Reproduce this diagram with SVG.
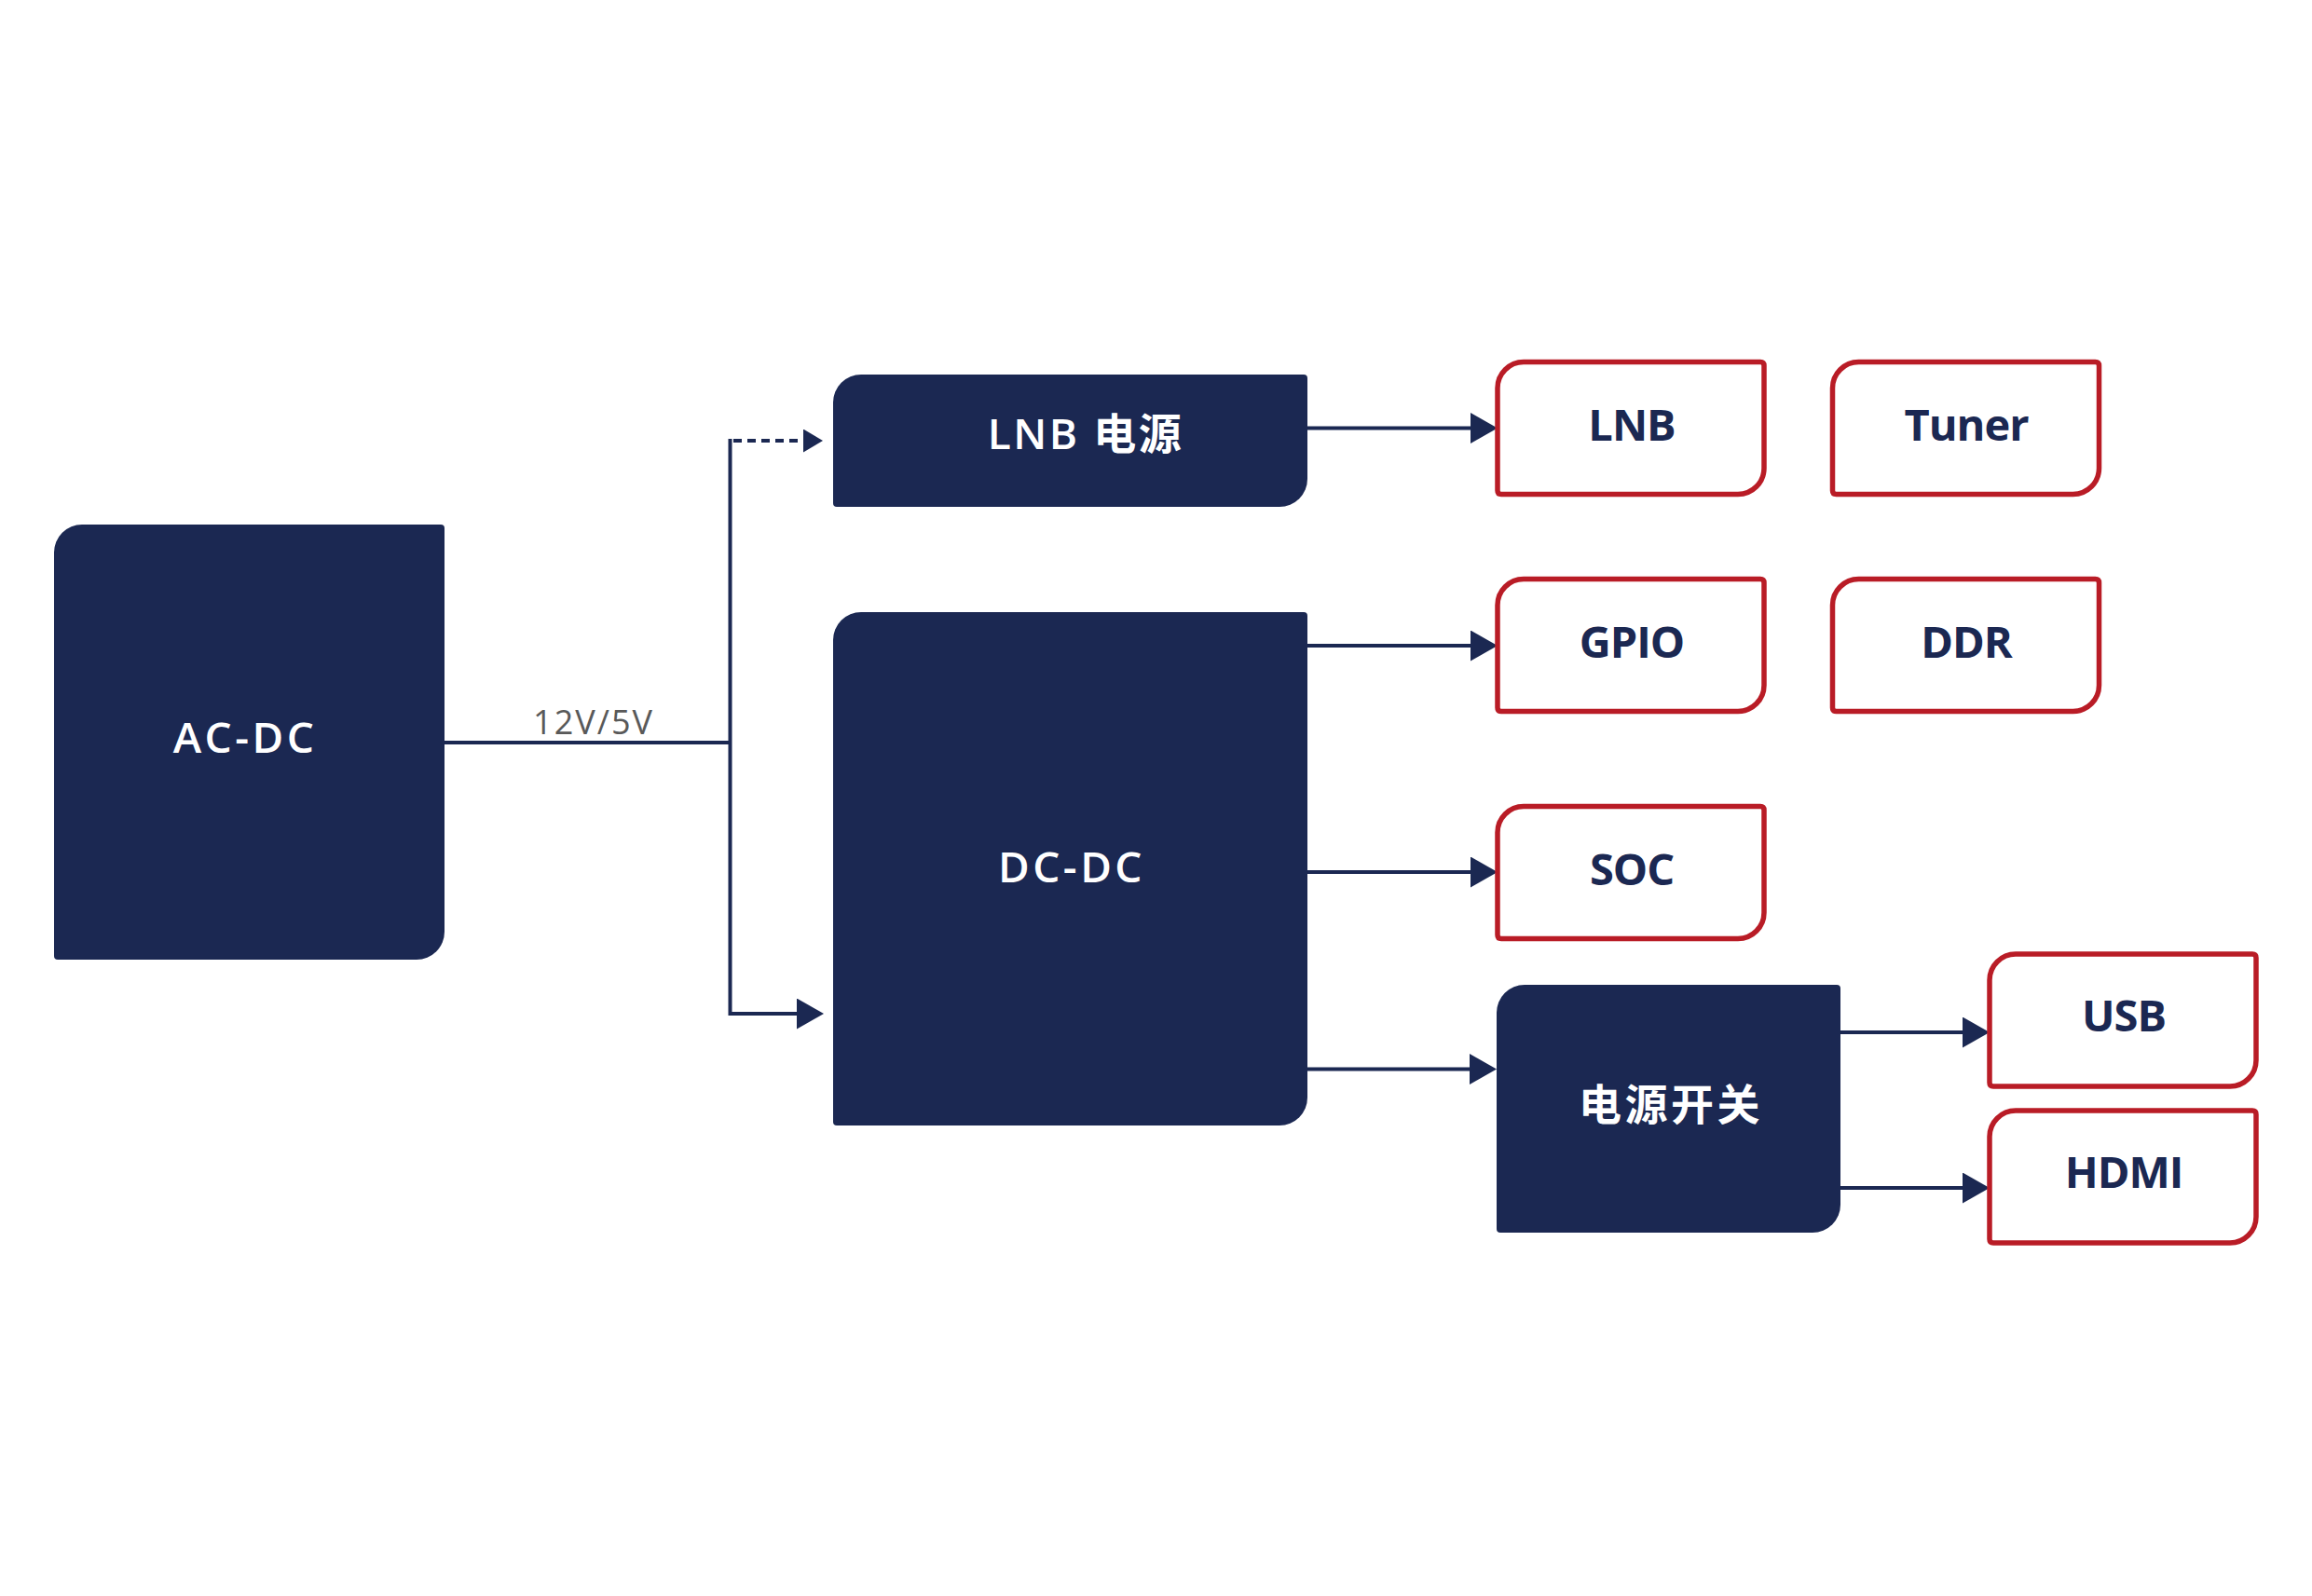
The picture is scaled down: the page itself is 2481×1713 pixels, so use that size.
<svg xmlns="http://www.w3.org/2000/svg" xmlns:xlink="http://www.w3.org/1999/xlink" width="2481" height="1713" viewBox="0 0 2481 1713">
<style>
.nb{fill:#1b2852}
.rb{fill:#fff;stroke:#b91c26;stroke-width:5.5}
.t{font-family:"Open Sans","Noto Sans CJK SC",sans-serif;text-anchor:middle}
.tw{fill:#fff;font-size:46px;font-weight:600;letter-spacing:3.5px}
.tn{fill:#1b2852;font-size:47px;font-weight:700;letter-spacing:-1px}
.lbl{font-family:"Open Sans",sans-serif;font-size:36px;fill:#595959;text-anchor:middle;letter-spacing:2px}
.ln{fill:none;stroke:#1b2852;stroke-width:4}
.ar{marker-end:url(#arr)}
.ds{stroke-dasharray:9 6;marker-end:url(#arrs)}
</style>
<defs>
<marker id="arr" markerUnits="userSpaceOnUse" markerWidth="30" markerHeight="34" refX="10" refY="16.5" orient="auto"><path d="M0,0 L29,16.5 L0,33 Z" fill="#1b2852"/></marker>
<marker id="arrs" markerUnits="userSpaceOnUse" markerWidth="22" markerHeight="26" refX="7" refY="12.5" orient="auto"><path d="M0,0 L21,12.5 L0,25 Z" fill="#1b2852"/></marker>
<path id="rbox" d="M28,0 H282 Q286,0 286,4 V114 A28,28 0 0 1 258,142 H4 Q0,142 0,138 V28 A28,28 0 0 1 28,0 Z"/>
</defs>
<rect width="2481" height="1713" fill="#fff"/>
<g id="connectors">
<path class="ln" d="M477,797 H783.5"/>
<path class="ln ar" d="M783.5,471 V1088 H865"/>
<path class="ln ds" d="M787,473 H869"/>
<path class="ln ar" d="M1403,459.5 H1588"/>
<path class="ln ar" d="M1403,693 H1588"/>
<path class="ln ar" d="M1403,936 H1588"/>
<path class="ln ar" d="M1403,1147.5 H1587"/>
<path class="ln ar" d="M1975,1108 H2116"/>
<path class="ln ar" d="M1975,1275 H2116"/>
</g>
<text class="lbl" x="637" y="788">12V/5V</text>
<g id="acdc">
<path class="nb" d="M88,563 H473 Q477,563 477,567 V1000 A30,30 0 0 1 447,1030 H62 Q58,1030 58,1026 V593 A30,30 0 0 1 88,563 Z"/>
<text class="t tw" x="263" y="808">AC-DC</text>
</g>
<g id="lnbpower">
<path class="nb" d="M924,402 H1399 Q1403,402 1403,406 V514 A30,30 0 0 1 1373,544 H898 Q894,544 894,540 V432 A30,30 0 0 1 924,402 Z"/>
<text class="t tw" x="1165" y="482" style="letter-spacing:2.5px">LNB 电源</text>
</g>
<g id="dcdc">
<path class="nb" d="M924,657 H1399 Q1403,657 1403,661 V1178 A30,30 0 0 1 1373,1208 H898 Q894,1208 894,1204 V687 A30,30 0 0 1 924,657 Z"/>
<text class="t tw" x="1150" y="947">DC-DC</text>
</g>
<g id="switch">
<path class="nb" d="M1636,1057 H1971 Q1975,1057 1975,1061 V1293 A30,30 0 0 1 1945,1323 H1610 Q1606,1323 1606,1319 V1087 A30,30 0 0 1 1636,1057 Z"/>
<text class="t tw" x="1793" y="1202" style="letter-spacing:3.5px">电源开关</text>
</g>
<g id="lnb"><use href="#rbox" class="rb" x="1607" y="388.5"/><text class="t tn" x="1751" y="473">LNB</text></g>
<g id="tuner"><use href="#rbox" class="rb" x="1966.5" y="388.5"/><text class="t tn" x="2110" y="473">Tuner</text></g>
<g id="gpio"><use href="#rbox" class="rb" x="1607" y="621.5"/><text class="t tn" x="1751" y="706">GPIO</text></g>
<g id="ddr"><use href="#rbox" class="rb" x="1966.5" y="621.5"/><text class="t tn" x="2110" y="706">DDR</text></g>
<g id="soc"><use href="#rbox" class="rb" x="1607" y="865.5"/><text class="t tn" x="1751" y="950">SOC</text></g>
<g id="usb"><use href="#rbox" class="rb" x="2135" y="1024"/><text class="t tn" x="2279" y="1107">USB</text></g>
<g id="hdmi"><use href="#rbox" class="rb" x="2135" y="1192"/><text class="t tn" x="2279" y="1275">HDMI</text></g>
</svg>
